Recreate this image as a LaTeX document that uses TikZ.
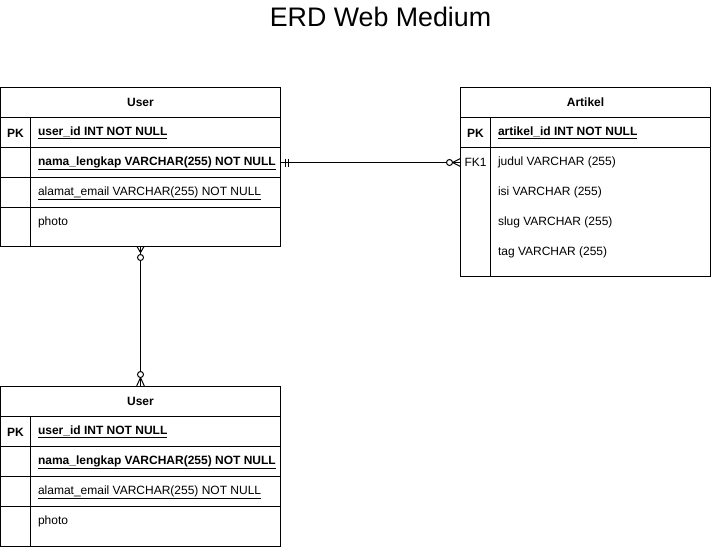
\documentclass[tikz,border=0pt]{standalone}
\usepackage{fontspec}
\setmainfont{Liberation Sans}
\usetikzlibrary{calc}
\tikzset{
  box/.style={draw=black, line width=1pt, inner sep=0pt, outer sep=0pt, anchor=north west},
  ghost/.style={inner sep=0pt, outer sep=0pt, anchor=north west},
  fld/.style={inner sep=0pt, outer sep=0pt, anchor=west, font=\fontsize{12}{14}\selectfont},
  key/.style={inner sep=0pt, outer sep=0pt, font=\fontsize{12}{14}\selectfont},
  hdr/.style={font=\fontsize{12}{14}\selectfont\bfseries},
  rel/.style={draw=black, line width=1pt},
}
\begin{document}
\begin{tikzpicture}[x=1pt,y=-1pt]
\useasboundingbox (0,0) rectangle (711,547);
\node (title) at (380.5,16.5) {\fontsize{26.8}{30}\selectfont ERD Web Medium};

% ---------- User (top) ----------
\node[box, minimum width=280pt, minimum height=159pt] (u1) at (0.5,87.5) {};
\node[box, minimum width=280pt, minimum height=30pt, hdr] (u1h) at (0.5,87.5) {User};
\node[box, minimum width=280pt, minimum height=30pt] (u1r1) at (0.5,117.5) {};
\node[box, minimum width=280pt, minimum height=30pt] (u1r2) at (0.5,147.5) {};
\node[box, minimum width=280pt, minimum height=30pt] (u1r3) at (0.5,177.5) {};
\draw[line width=1pt] (30.5,117.5) -- (30.5,246.5);
\node[key] (u1pk) at (15.5,133) {\textbf{PK}};
\node[fld] (u1f1) at (38,133) {\underline{\textbf{user\_id INT NOT NULL}}};
\node[fld] (u1f2) at (38,163) {\underline{\textbf{nama\_lengkap VARCHAR(255) NOT NULL}}};
\node[fld] (u1f3) at (38,193) {\underline{alamat\_email VARCHAR(255) NOT NULL}};
\node[fld] (u1f4) at (38,222.5) {photo};

% ---------- Artikel ----------
\node[box, minimum width=250pt, minimum height=189pt] (ar) at (460.5,87.5) {};
\node[box, minimum width=250pt, minimum height=30pt, hdr] (arh) at (460.5,87.5) {Artikel};
\node[box, minimum width=250pt, minimum height=30pt] (arr1) at (460.5,117.5) {};
\node[ghost, minimum width=250pt, minimum height=30pt] (arr2) at (460.5,147.5) {};
\draw[line width=1pt] (490.5,117.5) -- (490.5,276.5);
\node[key] (arpk) at (475.5,133) {\textbf{PK}};
\node[key] (arfk) at (475.5,162.5) {FK1};
\node[fld] (arf1) at (498,133) {\underline{\textbf{artikel\_id INT NOT NULL}}};
\node[fld] (arf2) at (498,162.5) {judul VARCHAR (255)};
\node[fld] (arf3) at (498,192.5) {isi VARCHAR (255)};
\node[fld] (arf4) at (498,222.5) {slug VARCHAR (255)};
\node[fld] (arf5) at (498,252.5) {tag VARCHAR (255)};

% ---------- User (bottom) ----------
\node[box, minimum width=280pt, minimum height=160pt] (u2) at (0.5,386.5) {};
\node[box, minimum width=280pt, minimum height=30pt, hdr] (u2h) at (0.5,386.5) {User};
\node[box, minimum width=280pt, minimum height=30pt] (u2r1) at (0.5,416.5) {};
\node[box, minimum width=280pt, minimum height=30pt] (u2r2) at (0.5,446.5) {};
\node[box, minimum width=280pt, minimum height=30pt] (u2r3) at (0.5,476.5) {};
\draw[line width=1pt] (30.5,416.5) -- (30.5,546.5);
\node[key] (u2pk) at (15.5,432) {\textbf{PK}};
\node[fld] (u2f1) at (38,432) {\underline{\textbf{user\_id INT NOT NULL}}};
\node[fld] (u2f2) at (38,462) {\underline{\textbf{nama\_lengkap VARCHAR(255) NOT NULL}}};
\node[fld] (u2f3) at (38,492) {\underline{alamat\_email VARCHAR(255) NOT NULL}};
\node[fld] (u2f4) at (38,521.5) {photo};

% ---------- Relation User -> Artikel ----------
\draw[rel] (u1r2.east) -- (arr2.west);
\draw[rel] ($(u1r2.east)+(4.5,-4)$) -- ($(u1r2.east)+(4.5,4)$);
\draw[rel] ($(u1r2.east)+(7.5,-4)$) -- ($(u1r2.east)+(7.5,4)$);
\draw[rel, fill=white] ($(arr2.west)+(-11,0)$) circle (3);
\draw[rel] ($(arr2.west)+(-8,0)$) -- ($(arr2.west)+(0,-4)$);
\draw[rel] ($(arr2.west)+(-8,0)$) -- ($(arr2.west)+(0,4)$);

% ---------- Relation User -> User ----------
\draw[rel] (u1.south) -- (u2.north);
\draw[rel, fill=white] ($(u1.south)+(0,11)$) circle (3);
\draw[rel] ($(u1.south)+(0,6)$) -- ($(u1.south)+(-3.5,0)$);
\draw[rel] ($(u1.south)+(0,6)$) -- ($(u1.south)+(3.5,0)$);
\draw[rel, fill=white] ($(u2.north)+(0,-12)$) circle (3);
\draw[rel] ($(u2.north)+(0,-9)$) -- ($(u2.north)+(-4,0)$);
\draw[rel] ($(u2.north)+(0,-9)$) -- ($(u2.north)+(4,0)$);
\end{tikzpicture}
\end{document}
